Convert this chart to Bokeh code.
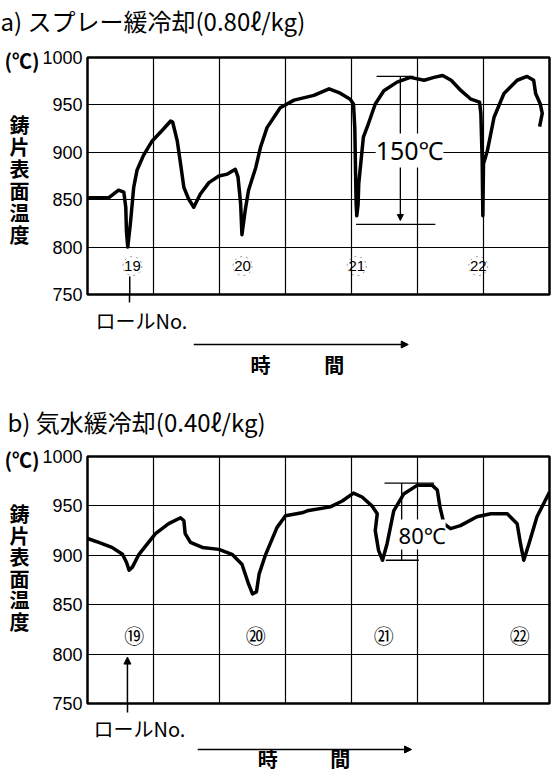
from bokeh.plotting import figure
from bokeh.models import Arrow, NormalHead, FixedTicker, Range1d, LinearAxis, Label, Title
from bokeh.layouts import column
from bokeh.embed import file_html
from bokeh.resources import INLINE
from bokeh.core.properties import value

# ---------------- data ----------------
temp_ticks = [750, 800, 850, 900, 950, 1000]
time_grid = [1, 2, 3, 4, 5, 6]

# a) spray slow cooling
a_time = [0.00, 0.32, 0.47, 0.55, 0.58, 0.59, 0.61, 0.65, 0.70, 0.75, 0.85, 0.98, 1.13, 1.26, 1.29,
          1.36, 1.41, 1.46, 1.53, 1.61, 1.71, 1.84, 1.99, 2.12, 2.24, 2.28, 2.32, 2.34, 2.39, 2.44,
          2.55, 2.62, 2.72, 2.92, 3.13, 3.43, 3.66, 3.81, 3.98, 4.03, 4.05, 4.06, 4.07, 4.08, 4.10,
          4.11, 4.15, 4.18, 4.24, 4.36, 4.49, 4.69, 4.89, 5.10, 5.25, 5.38, 5.51, 5.66, 5.81, 5.94,
          5.96, 5.98, 5.99, 6.00, 6.06, 6.16, 6.31, 6.51, 6.66, 6.76, 6.79, 6.86, 6.89, 6.85]
a_temp = [852, 852, 860, 858, 842, 817, 800, 825, 863, 881, 897, 912, 923, 933, 932,
          912, 888, 863, 851, 842, 856, 868, 875, 877, 882, 874, 846, 813, 839, 860,
          884, 905, 926, 947, 955, 960, 967, 963, 956, 951, 926, 884, 846, 833, 845,
          867, 895, 916, 927, 951, 965, 974, 979, 976, 979, 981, 976, 965, 956, 953,
          941, 891, 833, 888, 902, 937, 962, 976, 980, 976, 962, 951, 941, 927]
a_roll_x = [0.68, 2.35, 4.08, 5.92]
a_roll_lbl = ["19", "20", "21", "22"]
a_roll_y = 780
a_roll_mark = 0.64
a_span_top, a_span_bottom = 980, 826
a_span_text = "150℃"

# b) air-mist slow cooling
b_time = [0.00, 0.17, 0.37, 0.53, 0.59, 0.63, 0.68, 0.78, 1.03, 1.23, 1.41, 1.46, 1.48, 1.56, 1.74,
          1.99, 2.19, 2.34, 2.44, 2.50, 2.56, 2.60, 2.70, 2.87, 3.00, 3.25, 3.33, 3.68, 3.86, 4.03,
          4.16, 4.31, 4.39, 4.36, 4.41, 4.47, 4.54, 4.64, 4.79, 5.00, 5.22, 5.30, 5.34, 5.40, 5.50,
          5.65, 5.90, 6.11, 6.36, 6.51, 6.56, 6.61, 6.69, 6.81, 6.97, 7.00]
b_temp = [917, 913, 908, 901, 893, 885, 888, 901, 922, 932, 938, 935, 922, 913, 908,
          906, 901, 891, 871, 861, 863, 881, 901, 928, 940, 943, 945, 949, 955, 963,
          959, 950, 942, 925, 905, 895, 912, 945, 962, 971, 971, 966, 949, 932, 927,
          930, 939, 942, 942, 932, 912, 895, 912, 939, 960, 964]
b_roll_x = [0.71, 2.55, 4.49, 6.55]
b_roll_lbl = ["⑲", "⑳", "㉑", "㉒"]
b_roll_y = 819
b_roll_mark = 0.605
b_span_top, b_span_bottom = 973, 895
b_span_text = "80℃"

title_a = "a) スプレー緩冷却(0.80ℓ/kg)"
title_b = "b) 気水緩冷却(0.40ℓ/kg)"
unit_lbl = "(℃)"
ylab_chars = ["鋳", "片", "表", "面", "温", "度"]
roll_text = "ロールNo."
time_chars = ["時", "間"]

JP = "Noto Sans CJK JP"
NUM = "Liberation Sans"
PAD = "\u2002"
W = 551


def bare_fig(height, x_range, y_range):
    f = figure(width=W, height=height, x_range=x_range, y_range=y_range,
               x_axis_type=None, y_axis_type=None,
               output_backend="svg", toolbar_location=None,
               min_border_left=87, min_border_right=2, min_border_top=0, min_border_bottom=0)
    f.grid.visible = False
    f.outline_line_color = None
    return f


def title_fig(height, text, offset):
    t = bare_fig(height, Range1d(0, 1), Range1d(0, 1))
    t.title = Title(text=text, align="left", offset=offset, standoff=0,
                    text_font=JP, text_font_size="24px", text_font_style="normal",
                    text_color="black")
    return t


def main_fig(height, char_pos, mark, mark_len):
    p = figure(width=W, height=height, x_range=Range1d(0, 7), y_range=Range1d(750, 1000),
               output_backend="svg", toolbar_location=None,
               min_border_left=87, min_border_right=2, min_border_top=12, min_border_bottom=10)
    p.title.visible = False
    # temperature axis
    ax = p.yaxis[0]
    ax.ticker = FixedTicker(ticks=temp_ticks)
    ax.major_label_text_font = NUM
    ax.major_label_text_font_size = "18px"
    ax.major_label_text_color = "black"
    ax.major_label_standoff = 5
    ax.axis_line_color = None
    ax.major_tick_line_color = None
    ax.minor_tick_line_color = None
    ax.major_tick_out = 0
    ax.major_tick_in = 0
    ax.minor_tick_out = 0
    # stacked axis title (one character per tick) and unit
    cax = LinearAxis(ticker=FixedTicker(ticks=[1000] + char_pos),
                     major_label_overrides={**{1000: unit_lbl},
                                            **{t: c + PAD for t, c in zip(char_pos, ylab_chars)}},
                     major_label_text_font=JP, major_label_text_font_size="20px",
                     major_label_text_font_style="bold", major_label_text_color="black",
                     major_label_standoff=0, axis_line_color=None,
                     major_tick_line_color=None, minor_tick_line_color=None,
                     major_tick_out=0, major_tick_in=0, minor_tick_out=0, minor_tick_in=0)
    p.add_layout(cax, "left")
    # x axis: only the roll-position mark, drawn below the frame
    xa = p.xaxis[0]
    xa.ticker = FixedTicker(ticks=[mark])
    xa.axis_line_color = None
    xa.minor_tick_line_color = None
    xa.minor_tick_out = 0
    xa.major_tick_in = 0
    xa.major_tick_out = mark_len
    xa.major_tick_line_color = "black"
    xa.major_tick_line_width = 1.5
    xa.major_label_overrides = {mark: ""}
    xa.major_label_text_font_size = "1px"
    xa.major_label_standoff = 0
    # grid / frame
    p.xgrid.ticker = FixedTicker(ticks=time_grid)
    p.ygrid.ticker = FixedTicker(ticks=temp_ticks[1:-1])
    for g in (p.xgrid, p.ygrid):
        g.grid_line_color = "black"
        g.grid_line_width = 1.2
        g.grid_line_alpha = 1
    p.outline_line_color = "black"
    p.outline_line_width = 2.5
    p.outline_line_alpha = 1
    return p


def under_content(q, roll_xy, arrow_x0, arrow_x1, arrow_y, time_x, time_y):
    q.title.visible = False
    q.text([roll_xy[0]], [roll_xy[1]], text=[roll_text], text_font=value(JP), text_font_size="20px",
           text_align="left", text_baseline="middle", text_color="black")
    q.add_layout(Arrow(x_start=arrow_x0, y_start=arrow_y, x_end=arrow_x1, y_end=arrow_y, start=None,
                       end=NormalHead(size=7, fill_color="black", line_color="black"),
                       line_color="black", line_width=1.6))
    q.text(time_x, [time_y] * 2, text=time_chars, text_font=value(JP), text_font_size="20px",
           text_font_style="bold", text_align="center", text_baseline="middle", text_color="black")


# ---------------- panel a ----------------
ta = title_fig(45, title_a, -87)
pa = main_fig(259, [929.3, 906.1, 882.9, 859.7, 836.5, 813.3], a_roll_mark, 8)
pa.line(a_time, a_temp, line_color="black", line_width=3.5, line_join="round")
pa.segment([a_roll_mark], [a_roll_y - 11], [a_roll_mark], [750], line_color="black", line_width=1.5)
pa.text(a_roll_x, [a_roll_y] * 4, text=a_roll_lbl, text_font=value(NUM), text_font_size="15px",
        text_align="center", text_baseline="middle", text_color="black")
pa.scatter(a_roll_x, [a_roll_y] * 4, size=19, fill_color=None, line_color="black",
           line_dash="dotted", line_alpha=0.5, line_width=0.8)
pa.add_layout(Arrow(x_start=4.38, y_start=a_span_top, x_end=4.94, y_end=a_span_top, start=None, end=None,
                    line_color="black", line_width=1.3))
pa.add_layout(Arrow(x_start=4.07, y_start=a_span_bottom - 2, x_end=5.27, y_end=a_span_bottom - 2, start=None,
                    end=None, line_color="black", line_width=1.3))
pa.add_layout(Arrow(x_start=4.74, y_start=a_span_top, x_end=4.74, y_end=a_span_bottom + 2, start=None,
                    end=NormalHead(size=6, fill_color="black"), line_color="black", line_width=1.3))
pa.add_layout(Label(x=4.88, y=902, text=a_span_text, text_font="Noto Sans", text_font_size="25px",
                    text_align="center", text_baseline="middle", background_fill_color="white",
                    text_color="black"))

ua = bare_fig(97, pa.x_range, Range1d(97, 0))
under_content(ua, (0.12, 16), 1.61, 4.86, 40, [2.62, 3.74], 60)

# ---------------- panel b ----------------
tb = title_fig(43, title_b, -80)
pb = main_fig(269, [942.3, 920.5, 898.8, 877.0, 855.3, 833.5], b_roll_mark, 9)
pb.line(b_time, b_temp, line_color="black", line_width=3.5, line_join="round")
pb.text(b_roll_x, [b_roll_y] * 4, text=b_roll_lbl, text_font=value(JP), text_font_size="20px",
        text_align="center", text_baseline="middle", text_color="black")
pb.add_layout(Arrow(x_start=b_roll_mark, y_start=750, x_end=b_roll_mark, y_end=797, start=None,
                    end=NormalHead(size=7, fill_color="black", line_color="black"),
                    line_color="black", line_width=1.5))
pb.add_layout(Arrow(x_start=4.5, y_start=b_span_top, x_end=5.25, y_end=b_span_top, start=None, end=None,
                    line_color="black", line_width=1.3))
pb.add_layout(Arrow(x_start=4.52, y_start=b_span_bottom, x_end=5.02, y_end=b_span_bottom, start=None, end=None,
                    line_color="black", line_width=1.3))
pb.add_layout(Arrow(x_start=4.76, y_start=b_span_top, x_end=4.76, y_end=b_span_bottom, start=None, end=None,
                    line_color="black", line_width=1.3))
pb.add_layout(Label(x=5.07, y=921, text=b_span_text, text_font="Noto Sans", text_font_size="22px",
                    text_align="center", text_baseline="middle", background_fill_color="white",
                    text_color="black"))

ub = bare_fig(59, pb.x_range, Range1d(59, 0))
under_content(ub, (0.09, 15), 1.67, 4.91, 36, [2.73, 3.83], 45)

layout = column(ta, pa, ua, tb, pb, ub)
open("out.html", "w").write(file_html(layout, INLINE))
